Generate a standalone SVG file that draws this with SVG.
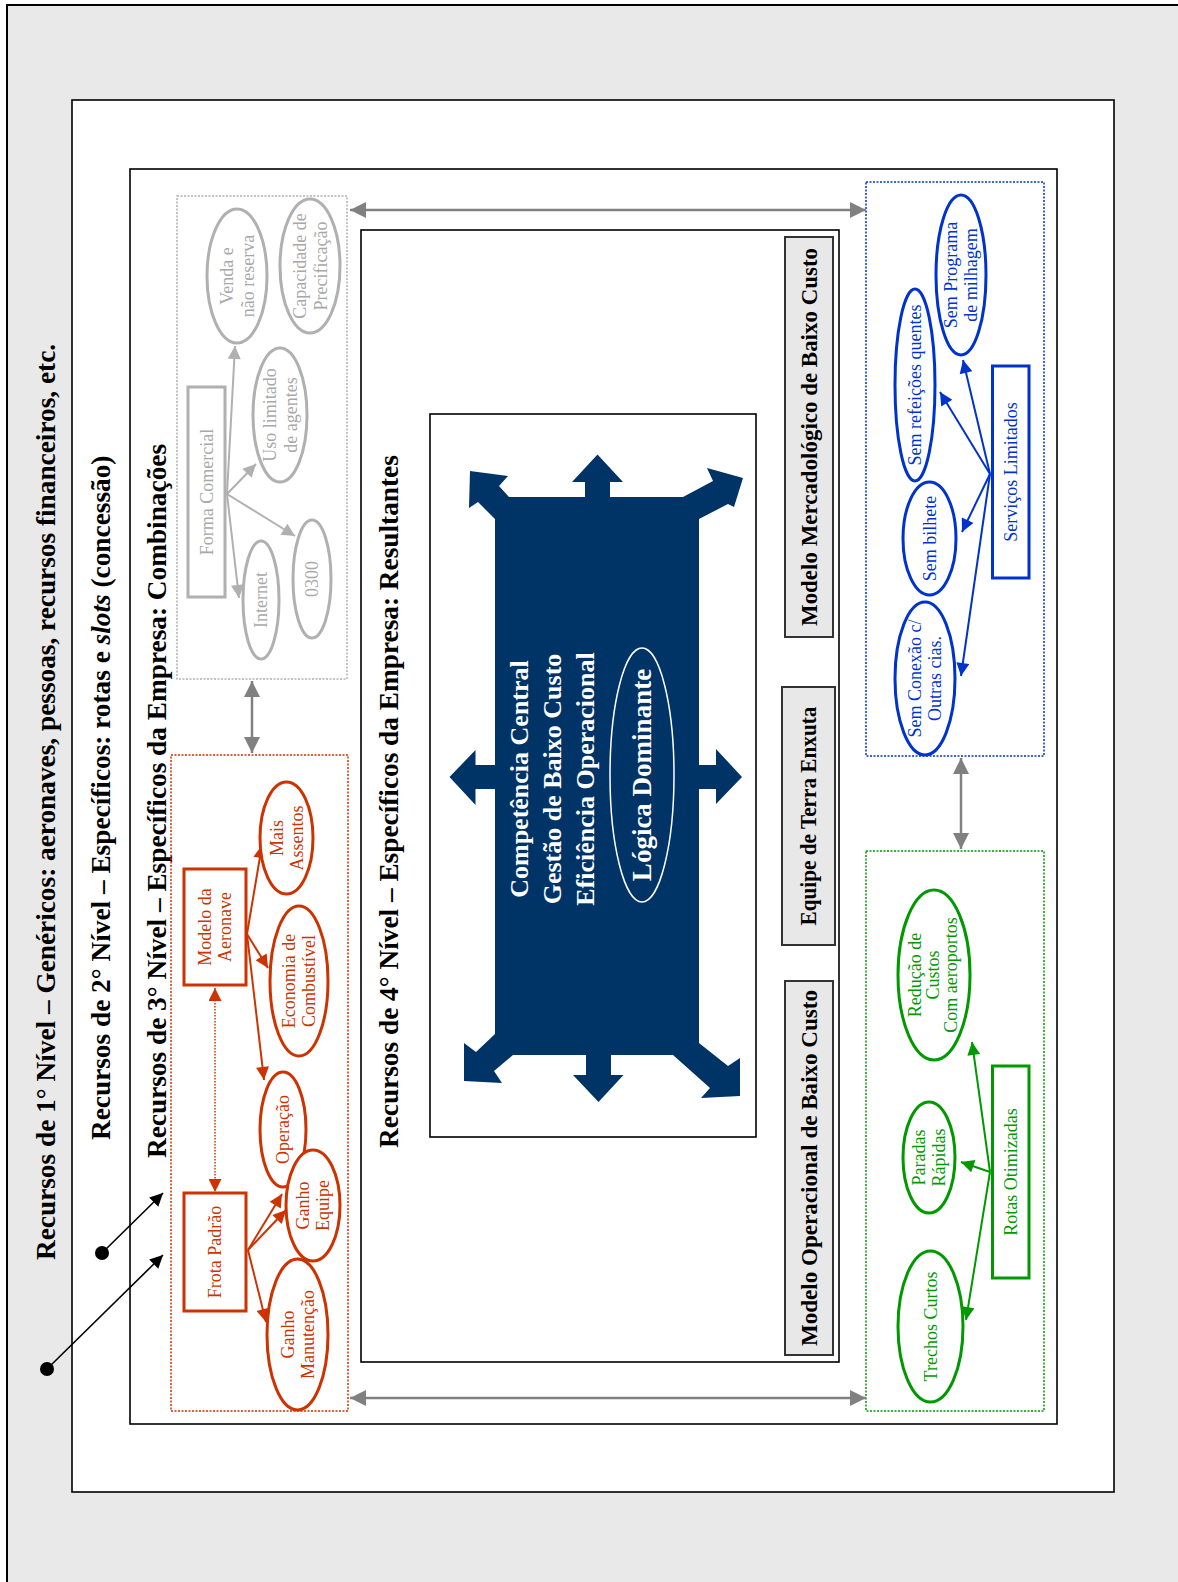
<svg xmlns="http://www.w3.org/2000/svg" width="1178" height="1582" viewBox="0 0 1178 1582">
<style>
text{font-family:"Liberation Serif","Times New Roman",serif;}
.title{font-size:27.3px;font-weight:bold;fill:#000;}
.lbl{font-size:23px;font-weight:bold;fill:#000;}
.gbox{fill:#e8e8e8;stroke:#333;stroke-width:2;}
.g{fill:#fff;stroke:#b0b0b0;stroke-width:3;}
.gt{font-size:18px;fill:#a8a8a8;text-anchor:middle;}
.r{fill:#fff;stroke:#cc3300;stroke-width:3;}
.rt{font-size:18px;fill:#cc3300;text-anchor:middle;}
.b{fill:#fff;stroke:#0033cc;stroke-width:3;}
.bt{font-size:18px;fill:#0033cc;text-anchor:middle;}
.gr{fill:#fff;stroke:#009900;stroke-width:3;}
.grt{font-size:18px;fill:#009900;text-anchor:middle;}
.wt{font-size:26px;font-weight:bold;fill:#fff;text-anchor:middle;}
</style>
<defs>
<marker id="mGrey" viewBox="0 0 10 10" refX="10" refY="5" markerUnits="userSpaceOnUse" markerWidth="16" markerHeight="16" orient="auto-start-reverse"><path d="M0,0 L10,5 L0,10 z" fill="#808080"/></marker>
<marker id="mLg" viewBox="0 0 10 10" refX="10" refY="5" markerUnits="userSpaceOnUse" markerWidth="15" markerHeight="13" orient="auto-start-reverse"><path d="M0,0 L10,5 L0,10 z" fill="#b0b0b0"/></marker>
<marker id="mRed" viewBox="0 0 10 10" refX="10" refY="5" markerUnits="userSpaceOnUse" markerWidth="15" markerHeight="13" orient="auto-start-reverse"><path d="M0,0 L10,5 L0,10 z" fill="#cc3300"/></marker>
<marker id="mBlue" viewBox="0 0 10 10" refX="10" refY="5" markerUnits="userSpaceOnUse" markerWidth="15" markerHeight="13" orient="auto-start-reverse"><path d="M0,0 L10,5 L0,10 z" fill="#0033cc"/></marker>
<marker id="mGreen" viewBox="0 0 10 10" refX="10" refY="5" markerUnits="userSpaceOnUse" markerWidth="15" markerHeight="13" orient="auto-start-reverse"><path d="M0,0 L10,5 L0,10 z" fill="#009900"/></marker>
<marker id="mBlack" viewBox="0 0 10 10" refX="10" refY="5" markerUnits="userSpaceOnUse" markerWidth="16" markerHeight="13" orient="auto"><path d="M0,0 L10,5 L0,10 z" fill="#000"/></marker>
</defs>

<!-- frames -->
<g id="frame-level1">
<rect x="7" y="5" width="1200" height="1600" fill="#e9e9e9" stroke="#000" stroke-width="2"/>
<text class="title" transform="translate(55,1260) rotate(-90)">Recursos de 1° Nível – Genéricos: aeronaves, pessoas, recursos financeiros, etc.</text>
</g>
<g id="frame-level2">
<rect x="72" y="100" width="1042" height="1392" fill="#fff" stroke="#000" stroke-width="1.6"/>
<text class="title" transform="translate(110,1140) rotate(-90)">Recursos de 2° Nível – Específicos: rotas e <tspan font-style="italic">slots</tspan> (concessão)</text>
</g>
<g id="frame-level3">
<rect x="130" y="169" width="927" height="1255" fill="#fff" stroke="#000" stroke-width="1.6"/>
<text class="title" transform="translate(166,1158) rotate(-90)">Recursos de 3° Nível – Específicos da Empresa: Combinações</text>
</g>
<g id="frame-level4">
<rect x="361" y="230" width="478" height="1132" fill="#fff" stroke="#000" stroke-width="1.6"/>
<text class="title" transform="translate(398,1148) rotate(-90)">Recursos de 4° Nível – Específicos da Empresa: Resultantes</text>
</g>

<!-- group boxes -->
<g id="grp-comercial">
<rect x="177" y="196" width="170" height="483" fill="none" stroke="#b0b0b0" stroke-width="1.5" stroke-dasharray="2,1.5"/>
</g>
<g id="grp-frota">
<rect x="171" y="755" width="177" height="656" fill="none" stroke="#cc3300" stroke-width="1.5" stroke-dasharray="2,1.5"/>
</g>
<g id="grp-servicos">
<rect x="866" y="182" width="178" height="574" fill="none" stroke="#0033cc" stroke-width="1.5" stroke-dasharray="2,1.5"/>
</g>
<g id="grp-rotas">
<rect x="866" y="851" width="178" height="560" fill="none" stroke="#009900" stroke-width="1.5" stroke-dasharray="2,1.5"/>
</g>

<!-- connectors -->
<g id="connectors" fill="none">
<line x1="350" y1="210" x2="866" y2="210" stroke="#808080" stroke-width="2.5" marker-start="url(#mGrey)" marker-end="url(#mGrey)"/>
<line x1="350" y1="1398" x2="866" y2="1398" stroke="#808080" stroke-width="2.5" marker-start="url(#mGrey)" marker-end="url(#mGrey)"/>
<line x1="252" y1="681" x2="252" y2="753" stroke="#808080" stroke-width="2.5" marker-start="url(#mGrey)" marker-end="url(#mGrey)"/>
<line x1="961" y1="758" x2="961" y2="849" stroke="#808080" stroke-width="2.5" marker-start="url(#mGrey)" marker-end="url(#mGrey)"/>

<line x1="227" y1="494" x2="235" y2="346" stroke="#b0b0b0" stroke-width="2" marker-end="url(#mLg)"/>
<line x1="227" y1="494" x2="256" y2="464" stroke="#b0b0b0" stroke-width="2" marker-end="url(#mLg)"/>
<line x1="227" y1="494" x2="295" y2="536" stroke="#b0b0b0" stroke-width="2" marker-end="url(#mLg)"/>
<line x1="227" y1="494" x2="239" y2="598" stroke="#b0b0b0" stroke-width="2" marker-end="url(#mLg)"/>

<line x1="215" y1="988" x2="215" y2="1192" stroke="#cc3300" stroke-width="1.5" stroke-dasharray="1.5,1.5" marker-start="url(#mRed)" marker-end="url(#mRed)"/>
<line x1="247" y1="934" x2="262" y2="845" stroke="#cc3300" stroke-width="2" marker-end="url(#mRed)"/>
<line x1="247" y1="934" x2="268" y2="968" stroke="#cc3300" stroke-width="2" marker-end="url(#mRed)"/>
<line x1="247" y1="934" x2="264" y2="1080" stroke="#cc3300" stroke-width="2" marker-end="url(#mRed)"/>
<line x1="248" y1="1250" x2="282" y2="1194" stroke="#cc3300" stroke-width="2" marker-end="url(#mRed)"/>
<line x1="248" y1="1250" x2="286" y2="1210" stroke="#cc3300" stroke-width="2" marker-end="url(#mRed)"/>
<line x1="248" y1="1250" x2="266" y2="1322" stroke="#cc3300" stroke-width="2" marker-end="url(#mRed)"/>

<line x1="990" y1="474" x2="963" y2="360" stroke="#0033cc" stroke-width="2" marker-end="url(#mBlue)"/>
<line x1="990" y1="474" x2="940" y2="392" stroke="#0033cc" stroke-width="2" marker-end="url(#mBlue)"/>
<line x1="990" y1="474" x2="962" y2="532" stroke="#0033cc" stroke-width="2" marker-end="url(#mBlue)"/>
<line x1="990" y1="474" x2="961" y2="676" stroke="#0033cc" stroke-width="2" marker-end="url(#mBlue)"/>

<line x1="990" y1="1172" x2="972" y2="1042" stroke="#009900" stroke-width="2" marker-end="url(#mGreen)"/>
<line x1="990" y1="1172" x2="961" y2="1162" stroke="#009900" stroke-width="2" marker-end="url(#mGreen)"/>
<line x1="990" y1="1172" x2="966" y2="1320" stroke="#009900" stroke-width="2" marker-end="url(#mGreen)"/>

<line x1="102" y1="1253" x2="163" y2="1193" stroke="#000" stroke-width="1.6" marker-end="url(#mBlack)"/>
<line x1="47" y1="1369" x2="163" y2="1255" stroke="#000" stroke-width="1.6" marker-end="url(#mBlack)"/>
<circle cx="102" cy="1253" r="7" fill="#000"/>
<circle cx="47" cy="1369" r="7" fill="#000"/>
</g>

<!-- grey nodes -->
<g id="n-forma"><rect class="g" x="188" y="387" width="37" height="210"/><text class="gt" transform="translate(206.5,492) rotate(-90)" y="6">Forma Comercial</text></g>
<g id="n-venda"><ellipse class="g" cx="237" cy="276" rx="30" ry="67"/><text class="gt" transform="translate(237,276) rotate(-90)"><tspan x="0" y="-4">Venda e</tspan><tspan x="0" y="17">não reserva</tspan></text></g>
<g id="n-capac"><ellipse class="g" cx="310" cy="266" rx="30" ry="67"/><text class="gt" transform="translate(310,266) rotate(-90)"><tspan x="0" y="-4">Capacidade de</tspan><tspan x="0" y="17">Precificação</tspan></text></g>
<g id="n-uso"><ellipse class="g" cx="280" cy="415" rx="27" ry="67"/><text class="gt" transform="translate(280,415) rotate(-90)"><tspan x="0" y="-4">Uso limitado</tspan><tspan x="0" y="17">de agentes</tspan></text></g>
<g id="n-internet"><ellipse class="g" cx="261" cy="600" rx="18" ry="59"/><text class="gt" transform="translate(261,600) rotate(-90)" y="6">Internet</text></g>
<g id="n-0300"><ellipse class="g" cx="312" cy="579" rx="19" ry="59"/><text class="gt" transform="translate(312,579) rotate(-90)" y="6">0300</text></g>

<!-- red nodes -->
<g id="n-modelo"><rect class="r" x="184" y="869" width="62" height="116"/><text class="rt" transform="translate(215,927) rotate(-90)"><tspan x="0" y="-4">Modelo da</tspan><tspan x="0" y="16">Aeronave</tspan></text></g>
<g id="n-frota"><rect class="r" x="184" y="1193" width="62" height="118"/><text class="rt" transform="translate(215,1252) rotate(-90)" y="6">Frota Padrão</text></g>
<g id="n-mais"><ellipse class="r" cx="286.5" cy="838" rx="26.5" ry="56"/><text class="rt" transform="translate(286.5,838) rotate(-90)"><tspan x="0" y="-4">Mais</tspan><tspan x="0" y="16">Assentos</tspan></text></g>
<g id="n-economia"><ellipse class="r" cx="299" cy="981" rx="29" ry="75"/><text class="rt" transform="translate(299,981) rotate(-90)"><tspan x="0" y="-4">Economia de</tspan><tspan x="0" y="16">Combustível</tspan></text></g>
<g id="n-operacao"><ellipse class="r" cx="283" cy="1129.5" rx="23" ry="57.5"/><text class="rt" transform="translate(283,1129.5) rotate(-90)" y="6">Operação</text></g>
<g id="n-equipe"><ellipse class="r" cx="313" cy="1205.5" rx="27" ry="55.5"/><text class="rt" transform="translate(313,1205.5) rotate(-90)"><tspan x="0" y="-4">Ganho</tspan><tspan x="0" y="16">Equipe</tspan></text></g>
<g id="n-manut"><ellipse class="r" cx="297.5" cy="1334.5" rx="30.5" ry="75.5"/><text class="rt" transform="translate(297.5,1334.5) rotate(-90)"><tspan x="0" y="-4">Ganho</tspan><tspan x="0" y="16">Manutenção</tspan></text></g>

<!-- blue nodes -->
<g id="n-servicos"><rect class="b" x="992.5" y="366" width="36.5" height="212"/><text class="bt" transform="translate(1011,472) rotate(-90)" y="6">Serviços Limitados</text></g>
<g id="n-programa"><ellipse class="b" cx="961" cy="275" rx="25" ry="80"/><text class="bt" transform="translate(961,275) rotate(-90)"><tspan x="0" y="-4">Sem Programa</tspan><tspan x="0" y="16">de milhagem</tspan></text></g>
<g id="n-refeicoes"><ellipse class="b" cx="915" cy="385" rx="20" ry="96"/><text class="bt" transform="translate(915,385) rotate(-90)" y="6">Sem refeições quentes</text></g>
<g id="n-bilhete"><ellipse class="b" cx="929.5" cy="538.5" rx="26.5" ry="56.5"/><text class="bt" transform="translate(929.5,538.5) rotate(-90)" y="6">Sem bilhete</text></g>
<g id="n-conexao"><ellipse class="b" cx="925" cy="678.5" rx="30" ry="76.5"/><text class="bt" transform="translate(925,678.5) rotate(-90)"><tspan x="0" y="-4">Sem Conexão c/</tspan><tspan x="0" y="16">Outras cias.</tspan></text></g>

<!-- green nodes -->
<g id="n-rotas"><rect class="gr" x="992.5" y="1066" width="36.5" height="212"/><text class="grt" transform="translate(1011,1172) rotate(-90)" y="6">Rotas Otimizadas</text></g>
<g id="n-reducao"><ellipse class="gr" cx="934" cy="975" rx="36" ry="85"/><text class="grt" transform="translate(934,975) rotate(-90)"><tspan x="0" y="-13">Redução de</tspan><tspan x="0" y="5">Custos</tspan><tspan x="0" y="23">Com aeroportos</tspan></text></g>
<g id="n-paradas"><ellipse class="gr" cx="929" cy="1157.5" rx="26" ry="55.5"/><text class="grt" transform="translate(929,1157.5) rotate(-90)"><tspan x="0" y="-4">Paradas</tspan><tspan x="0" y="16">Rápidas</tspan></text></g>
<g id="n-trechos"><ellipse class="gr" cx="930.5" cy="1326.5" rx="32.5" ry="75.5"/><text class="grt" transform="translate(930.5,1326.5) rotate(-90)" y="6">Trechos Curtos</text></g>

<!-- level 4 content -->
<g id="n-competencia">
<rect x="430" y="414" width="326" height="723" fill="#fff" stroke="#000" stroke-width="1.6"/>
<path fill="#003366" d="M495,519 L478,502 L469,508 L470,471 L508,476 L499,486 L509,497 L585,497 L585,482 L572,482 L597.5,454.5 L623,482 L610,482 L610,497 L683,497 L713,481 L707,468 L743,478 L734,507 L728,504 L699,519 L699,765 L716,765 L716,749 L742,777 L716,804 L716,789 L699,789 L699,1043 L728,1066 L740,1058 L740,1096 L701,1098 L710,1088 L673,1055 L611,1055 L611,1075 L623.5,1075 L598.5,1102 L573,1075 L586,1075 L586,1055 L513,1055 L494,1071 L502,1083 L464,1081 L464,1043 L476,1052 L495,1034 L495,789 L475.5,789 L475.5,805 L449.5,777 L475.5,750 L475.5,765 L495,765 Z"/>
<text class="wt" transform="translate(552,779) rotate(-90)"><tspan x="0" y="-24">Competência Central</tspan><tspan x="0" y="9">Gestão de Baixo Custo</tspan><tspan x="0" y="42">Eficiência Operacional</tspan></text>
<ellipse cx="642" cy="775" rx="32" ry="127" fill="none" stroke="#fff" stroke-width="1.5"/>
<text class="wt" style="font-size:27px" transform="translate(642,775) rotate(-90)" y="9">Lógica Dominante</text>
</g>
<g id="n-mercado"><rect class="gbox" x="785" y="237" width="48" height="400"/><text class="lbl" text-anchor="middle" transform="translate(809,437) rotate(-90)" y="8" textLength="378" lengthAdjust="spacingAndGlyphs">Modelo  Mercadológico de Baixo Custo</text></g>
<g id="n-equipeterra"><rect class="gbox" x="782" y="687" width="53" height="258"/><text class="lbl" text-anchor="middle" transform="translate(808,816) rotate(-90)" y="8" textLength="219" lengthAdjust="spacingAndGlyphs">Equipe de Terra Enxuta</text></g>
<g id="n-operacional"><rect class="gbox" x="785" y="981" width="48" height="374"/><text class="lbl" text-anchor="middle" transform="translate(809,1168) rotate(-90)" y="8" textLength="356" lengthAdjust="spacingAndGlyphs">Modelo  Operacional de Baixo Custo</text></g>
</svg>
